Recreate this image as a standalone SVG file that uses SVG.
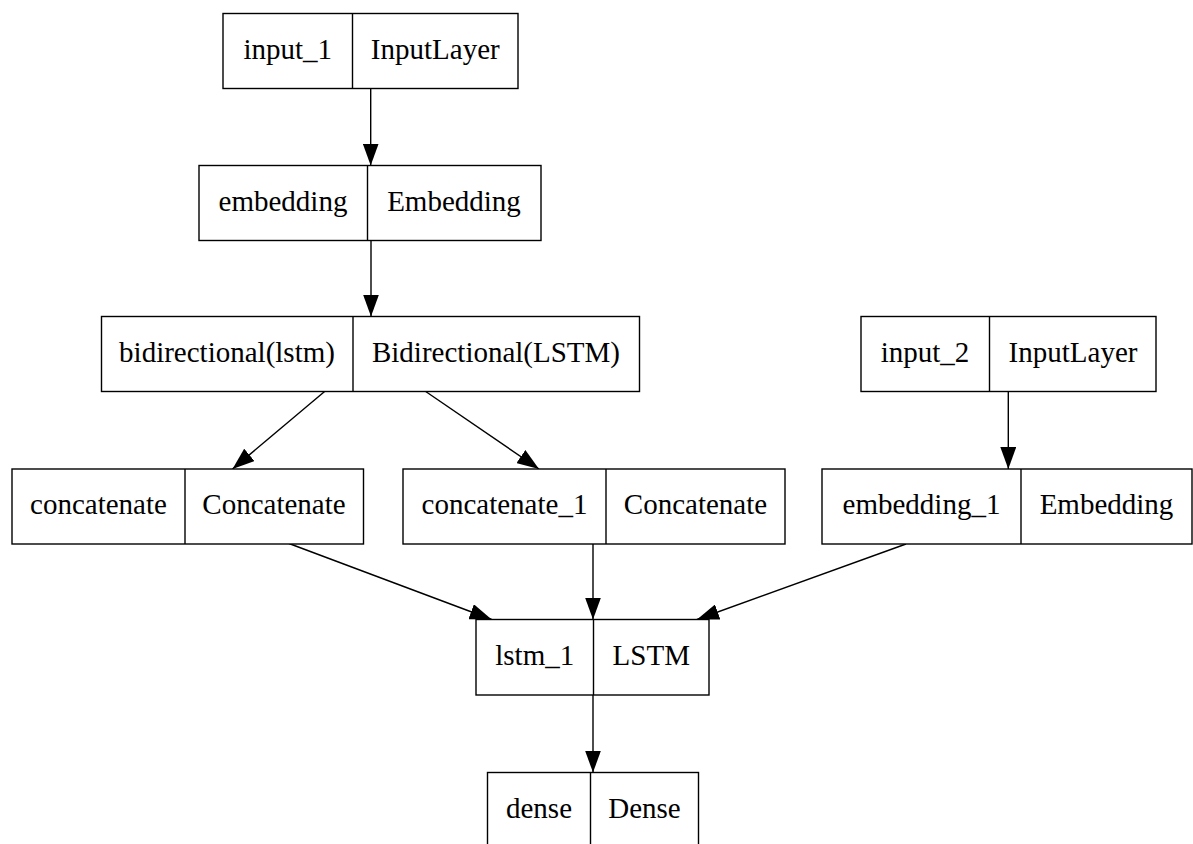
<svg xmlns="http://www.w3.org/2000/svg" width="1193" height="844" viewBox="0 0 1193 844">
<defs>
<style>
.box{fill:#fff;stroke:#000;stroke-width:1.4}
.div{stroke:#000;stroke-width:1.4}
.t{font-family:"Liberation Serif","Times New Roman",serif;font-size:29px;text-anchor:middle;fill:#000}
.e{stroke:#000;stroke-width:1.4;fill:none;marker-end:url(#ah)}
</style>
<marker id="ah" markerUnits="userSpaceOnUse" markerWidth="22" markerHeight="16" viewBox="0 0 22 16" refX="22" refY="8" orient="auto">
<path d="M0,0 L22,8 L0,16 z" fill="#000"/>
</marker>
</defs>
<rect width="1193" height="844" fill="#fff"/>
<g id="connectors">
<line class="e" x1="370.7" y1="88.5" x2="370.7" y2="165.5"/>
<line class="e" x1="371" y1="240.5" x2="371" y2="316.5"/>
<line class="e" x1="324.6" y1="391.5" x2="232.5" y2="469"/>
<line class="e" x1="425.7" y1="391.5" x2="539" y2="469"/>
<line class="e" x1="1008.3" y1="391.5" x2="1008.3" y2="469"/>
<line class="e" x1="289" y1="543.5" x2="491.7" y2="619.5"/>
<line class="e" x1="593" y1="544" x2="593" y2="619.5"/>
<line class="e" x1="906" y1="544" x2="697" y2="619.5"/>
<line class="e" x1="593" y1="695" x2="593" y2="772.5"/>
</g>
<g id="input_1">
<rect class="box" x="223" y="13.5" width="295" height="75"/>
<line class="div" x1="352.5" y1="13.5" x2="352.5" y2="88.5"/>
<text class="t" x="287.75" y="58.5">input_1</text>
<text class="t" x="435.25" y="58.5">InputLayer</text>
</g>
<g id="embedding">
<rect class="box" x="199" y="165.5" width="342" height="75"/>
<line class="div" x1="367.5" y1="165.5" x2="367.5" y2="240.5"/>
<text class="t" x="283" y="210.5">embedding</text>
<text class="t" x="454" y="210.5">Embedding</text>
</g>
<g id="bidirectional">
<rect class="box" x="101.5" y="316.5" width="538" height="75"/>
<line class="div" x1="353" y1="316.5" x2="353" y2="391.5"/>
<text class="t" x="227" y="361.5">bidirectional(lstm)</text>
<text class="t" x="496" y="361.5">Bidirectional(LSTM)</text>
</g>
<g id="input_2">
<rect class="box" x="861" y="316.5" width="295" height="75"/>
<line class="div" x1="989.5" y1="316.5" x2="989.5" y2="391.5"/>
<text class="t" x="925" y="361.5">input_2</text>
<text class="t" x="1073" y="361.5">InputLayer</text>
</g>
<g id="concatenate">
<rect class="box" x="12" y="469" width="351.5" height="75"/>
<line class="div" x1="185" y1="469" x2="185" y2="544"/>
<text class="t" x="98.5" y="514">concatenate</text>
<text class="t" x="274" y="514">Concatenate</text>
</g>
<g id="concatenate_1">
<rect class="box" x="403" y="469" width="382" height="75"/>
<line class="div" x1="606" y1="469" x2="606" y2="544"/>
<text class="t" x="504.5" y="514">concatenate_1</text>
<text class="t" x="695.5" y="514">Concatenate</text>
</g>
<g id="embedding_1">
<rect class="box" x="822" y="469" width="370" height="75"/>
<line class="div" x1="1021" y1="469" x2="1021" y2="544"/>
<text class="t" x="921.5" y="514">embedding_1</text>
<text class="t" x="1106.5" y="514">Embedding</text>
</g>
<g id="lstm_1">
<rect class="box" x="476" y="619.5" width="233" height="75.5"/>
<line class="div" x1="593.5" y1="619.5" x2="593.5" y2="695"/>
<text class="t" x="534.75" y="664.5">lstm_1</text>
<text class="t" x="651.25" y="664.5">LSTM</text>
</g>
<g id="dense">
<rect class="box" x="487.5" y="772.5" width="211" height="75"/>
<line class="div" x1="590.5" y1="772.5" x2="590.5" y2="847.5"/>
<text class="t" x="539" y="817.5">dense</text>
<text class="t" x="644.5" y="817.5">Dense</text>
</g>
</svg>
